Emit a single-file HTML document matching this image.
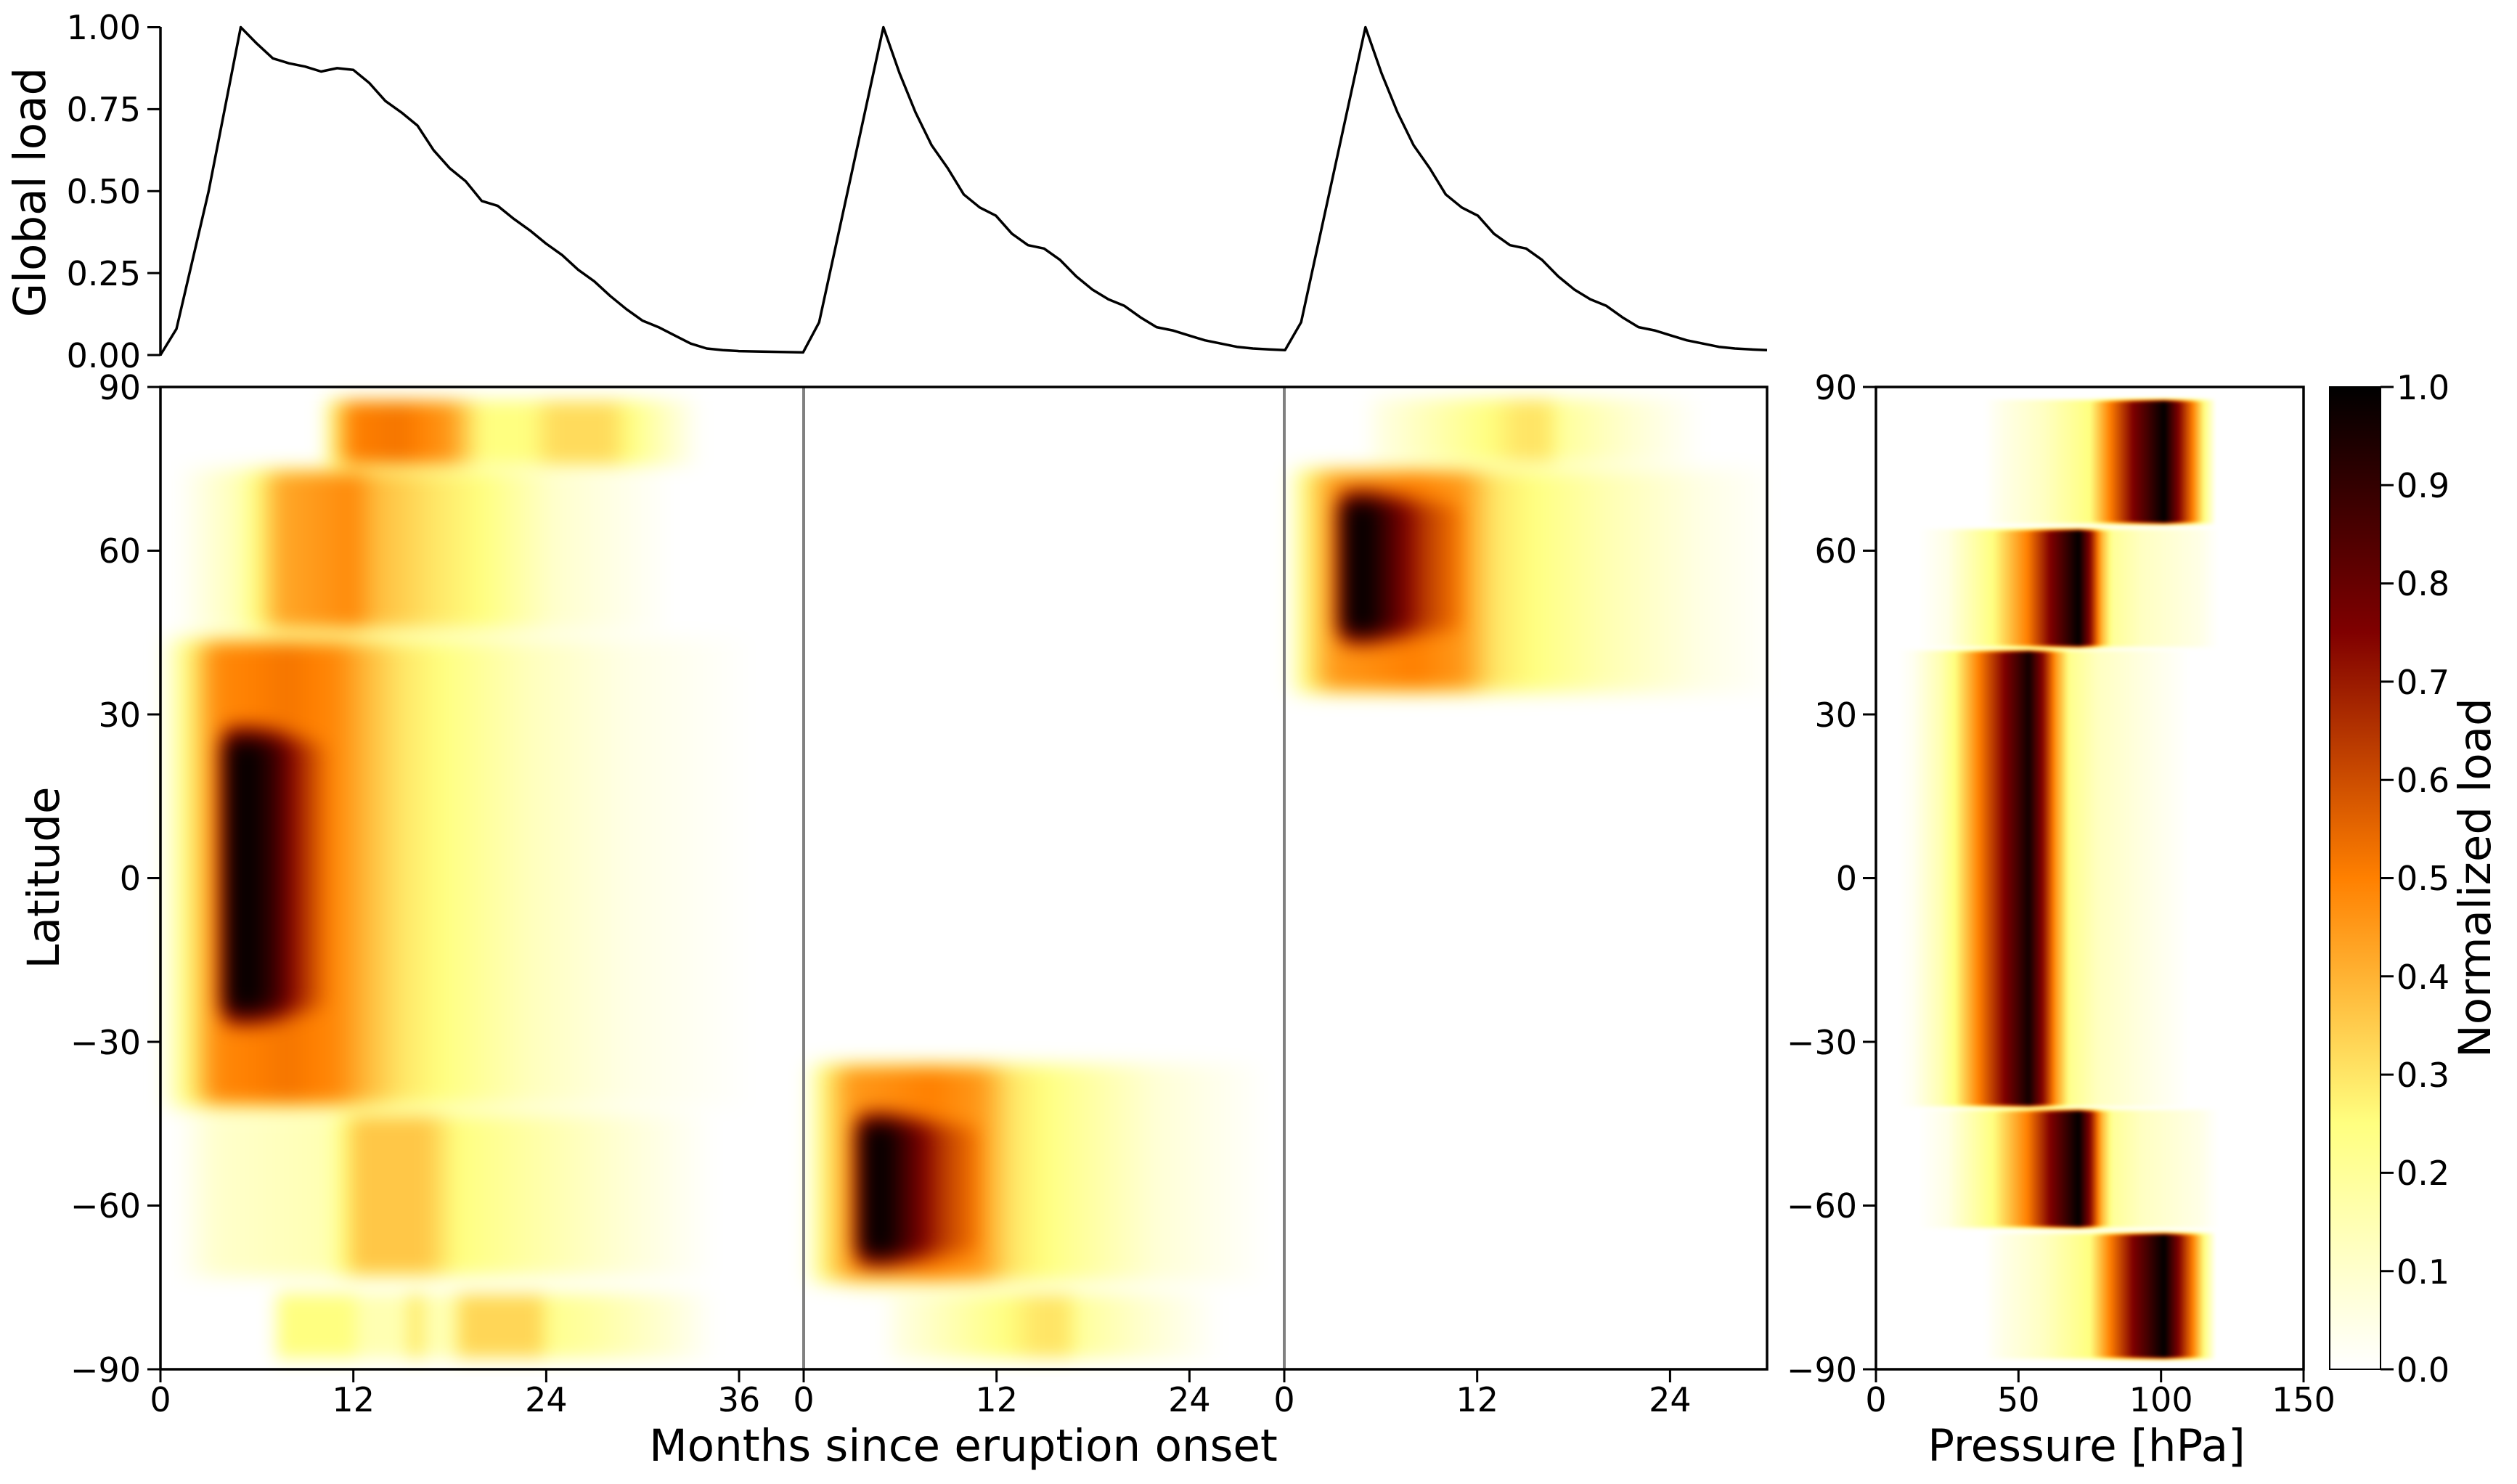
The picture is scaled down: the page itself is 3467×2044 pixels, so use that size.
<!DOCTYPE html>
<html><head><meta charset="utf-8"><style>
html,body{margin:0;padding:0;background:#fff;}
#wrap{position:relative;width:3467px;height:2044px;overflow:hidden;background:#fff;font-family:"DejaVu Sans","Liberation Sans",sans-serif;}
canvas{position:absolute;}
svg{position:absolute;left:0;top:0;}
</style></head><body><div id="wrap">
<canvas id="c1" width="2214" height="1353" style="left:220px;top:533px;filter:blur(12px)"></canvas>
<canvas id="c2" width="589" height="1353" style="left:2584px;top:533px;filter:blur(2px)"></canvas>
<div style="position:absolute;left:3209px;top:533px;width:70px;height:1353px;background:linear-gradient(to top,#fff 0%,#ffff80 25%,#ff8000 50%,#800000 75%,#000 100%)"></div>
<svg width="3467" height="2044" viewBox="0 0 3467 2044" font-family="DejaVu Sans, Liberation Sans, sans-serif" font-size="46" fill="#000">
<polyline id="ln" fill="none" stroke="#000" stroke-width="3.5" stroke-linejoin="round" points=""/>
<line x1="1107" y1="533" x2="1107" y2="1886" stroke="#808080" stroke-width="4"/>
<line x1="1769" y1="533" x2="1769" y2="1886" stroke="#808080" stroke-width="4"/>
<line x1="221" y1="37" x2="221" y2="490" stroke="#000" stroke-width="3.5"/>
<rect x="221" y="533" width="2213" height="1353" fill="none" stroke="#000" stroke-width="3.5"/>
<rect x="2584" y="533" width="589" height="1353" fill="none" stroke="#000" stroke-width="3.5"/>
<rect x="3209" y="533" width="70" height="1353" fill="none" stroke="#000" stroke-width="2"/>
<g stroke="#000" stroke-width="3">
<line x1="203" y1="37.5" x2="221" y2="37.5"/><line x1="203" y1="150.4" x2="221" y2="150.4"/><line x1="203" y1="263.3" x2="221" y2="263.3"/><line x1="203" y1="376.1" x2="221" y2="376.1"/><line x1="203" y1="489" x2="221" y2="489"/>
<line x1="203" y1="533" x2="221" y2="533"/><line x1="203" y1="758.5" x2="221" y2="758.5"/><line x1="203" y1="984" x2="221" y2="984"/><line x1="203" y1="1209.5" x2="221" y2="1209.5"/><line x1="203" y1="1435" x2="221" y2="1435"/><line x1="203" y1="1660.5" x2="221" y2="1660.5"/><line x1="203" y1="1886" x2="221" y2="1886"/>
<line x1="2566" y1="533" x2="2584" y2="533"/><line x1="2566" y1="758.5" x2="2584" y2="758.5"/><line x1="2566" y1="984" x2="2584" y2="984"/><line x1="2566" y1="1209.5" x2="2584" y2="1209.5"/><line x1="2566" y1="1435" x2="2584" y2="1435"/><line x1="2566" y1="1660.5" x2="2584" y2="1660.5"/><line x1="2566" y1="1886" x2="2584" y2="1886"/>
<line x1="221" y1="1886" x2="221" y2="1904"/><line x1="486.7" y1="1886" x2="486.7" y2="1904"/><line x1="752.4" y1="1886" x2="752.4" y2="1904"/><line x1="1018" y1="1886" x2="1018" y2="1904"/>
<line x1="1107" y1="1886" x2="1107" y2="1904"/><line x1="1372.7" y1="1886" x2="1372.7" y2="1904"/><line x1="1638.4" y1="1886" x2="1638.4" y2="1904"/>
<line x1="1769" y1="1886" x2="1769" y2="1904"/><line x1="2034.7" y1="1886" x2="2034.7" y2="1904"/><line x1="2300.4" y1="1886" x2="2300.4" y2="1904"/>
<line x1="2584" y1="1886" x2="2584" y2="1904"/><line x1="2780.3" y1="1886" x2="2780.3" y2="1904"/><line x1="2976.7" y1="1886" x2="2976.7" y2="1904"/><line x1="3173" y1="1886" x2="3173" y2="1904"/>
<line x1="3279" y1="533" x2="3297" y2="533"/><line x1="3279" y1="668.3" x2="3297" y2="668.3"/><line x1="3279" y1="803.6" x2="3297" y2="803.6"/><line x1="3279" y1="938.9" x2="3297" y2="938.9"/><line x1="3279" y1="1074.2" x2="3297" y2="1074.2"/><line x1="3279" y1="1209.5" x2="3297" y2="1209.5"/><line x1="3279" y1="1344.8" x2="3297" y2="1344.8"/><line x1="3279" y1="1480.1" x2="3297" y2="1480.1"/><line x1="3279" y1="1615.4" x2="3297" y2="1615.4"/><line x1="3279" y1="1750.7" x2="3297" y2="1750.7"/><line x1="3279" y1="1886" x2="3297" y2="1886"/>
</g>
<g text-anchor="end">
<text x="194" y="54">1.00</text><text x="194" y="167">0.75</text><text x="194" y="280">0.50</text><text x="194" y="393">0.25</text><text x="194" y="506">0.00</text>
<text x="194" y="550">90</text><text x="194" y="775">60</text><text x="194" y="1001">30</text><text x="194" y="1226">0</text><text x="194" y="1452">−30</text><text x="194" y="1677">−60</text><text x="194" y="1903">−90</text>
<text x="2558" y="550">90</text><text x="2558" y="775">60</text><text x="2558" y="1001">30</text><text x="2558" y="1226">0</text><text x="2558" y="1452">−30</text><text x="2558" y="1677">−60</text><text x="2558" y="1903">−90</text>
</g>
<g text-anchor="middle">
<text x="221" y="1944">0</text><text x="486.7" y="1944">12</text><text x="752.4" y="1944">24</text><text x="1018" y="1944">36</text>
<text x="1107" y="1944">0</text><text x="1372.7" y="1944">12</text><text x="1638.4" y="1944">24</text>
<text x="1769" y="1944">0</text><text x="2034.7" y="1944">12</text><text x="2300.4" y="1944">24</text>
<text x="2584" y="1944">0</text><text x="2780.3" y="1944">50</text><text x="2976.7" y="1944">100</text><text x="3173" y="1944">150</text>
</g>
<g text-anchor="start">
<text x="3301" y="550">1.0</text><text x="3301" y="685">0.9</text><text x="3301" y="820">0.8</text><text x="3301" y="956">0.7</text><text x="3301" y="1091">0.6</text><text x="3301" y="1226">0.5</text><text x="3301" y="1362">0.4</text><text x="3301" y="1497">0.3</text><text x="3301" y="1632">0.2</text><text x="3301" y="1768">0.1</text><text x="3301" y="1903">0.0</text>
</g>
<g font-size="61" text-anchor="middle">
<text x="1327" y="2012">Months since eruption onset</text>
<text x="2874" y="2012">Pressure [hPa]</text>
<text transform="translate(81,1209) rotate(-90)">Latitude</text>
<text transform="translate(62,265) rotate(-90)">Global load</text>
<text transform="translate(3430,1209) rotate(-90)">Normalized load</text>
</g>
</svg>
</div>
<script>
function interp(p,x){if(x<=p[0][0])return p[0][1];for(var i=1;i<p.length;i++){if(x<=p[i][0]){var a=p[i-1],b=p[i];return a[1]+(b[1]-a[1])*(x-a[0])/(b[0]-a[0]);}}return p[p.length-1][1];}
function ss(t){t=Math.max(0,Math.min(1,t));return t*t*(3-2*t);}
function lw(lat,lo,hi,e){return ss((lat-lo)/e+0.5)*ss((hi-lat)/e+0.5);}
var core=[[2,0],[3.8,0.95],[5,1],[6.5,0.85],[8.5,0.65],[11,0.5],[12,0]];
var S1=[
[-42,44,4,[[0,0],[0.6,0.1],[2,0.3],[3.5,0.48],[8,0.52],[11,0.48],[13,0.38],[15,0.3],[17,0.26],[23,0.13],[29,0.05],[37,0]]],
[-28,29,12,[[2.5,0],[4.3,0.95],[5.5,1],[7,0.9],[8.5,0.7],[10.5,0.5],[12,0]]],
[45.3,75,3,[[1,0],[3.7,0.1],[5,0.15],[7.5,0.42],[12,0.48],[13.5,0.38],[17,0.3],[20,0.25],[24.5,0.1],[32,0]]],
[75.6,87.7,2,[[10,0],[10.8,0.3],[12,0.5],[15,0.52],[18,0.45],[20,0.25],[23,0.25],[24.5,0.32],[28,0.32],[30,0.2],[33.7,0]]],
[-73,-43,3,[[1,0],[3.5,0.1],[10.5,0.15],[12.3,0.36],[16.5,0.36],[18.5,0.25],[21.5,0.2],[29,0.08],[34.6,0]]],
[-88,-76,2,[[7,0],[7.5,0.25],[12,0.25],[12.4,0.15],[15.3,0.15],[15.6,0.3],[16.2,0.3],[16.5,0.15],[18.3,0.15],[18.7,0.33],[23.6,0.33],[24.2,0.22],[27,0.18],[31.7,0.08],[34.6,0]]]];
var S2=[
[-74,-34,3,[[0,0],[1.5,0.3],[3,0.45],[8,0.5],[11,0.45],[13,0.3],[17,0.2],[22,0.08],[29,0]]],
[-72,-42,10,core],
[-88,-76,2,[[5,0],[5.7,0.05],[11,0.2],[14.5,0.3],[16.5,0.3],[17,0.2],[21,0.1],[26,0]]]];
var S3=[
[34,75,3,[[0,0],[1.5,0.3],[3,0.45],[8,0.5],[11,0.45],[13,0.3],[20,0.15],[26,0.05],[30,0.01]]],
[42,72,10,core],
[76,88,2,[[5,0],[5.7,0.05],[11,0.2],[14.5,0.3],[16.4,0.3],[17,0.2],[21,0.1],[26,0]]]];
function col(v){v=Math.max(0,Math.min(1,v));var x=1-v;return [255*Math.min(1,2*x),255*Math.max(0,Math.min(1,2*x-0.5)),255*Math.max(0,Math.min(1,2*x-1))];}
function draw(id,W,H,f){var c=document.getElementById(id),ctx=c.getContext('2d'),im=ctx.createImageData(W,H),d=im.data;
for(var y=0;y<H;y++){var lat=90-y*180/H;for(var x=0;x<W;x++){var v=f(x,lat),k=(y*W+x)*4,cc=col(v);d[k]=cc[0];d[k+1]=cc[1];d[k+2]=cc[2];d[k+3]=255;}}ctx.putImageData(im,0,0);}
draw('c1',2214,1353,function(x,lat){var m=x/22.14,S,r;if(m<40){S=S1;r=m;}else if(m<70){S=S2;r=m-40;}else{S=S3;r=m-70;}
var v=0;for(var i=0;i<S.length;i++){var s=S[i],w=lw(lat,s[0],s[1],s[2]);if(w>0){var t=w*interp(s[3],r);if(t>v)v=t;}}return v;});
var P1=[[38,0],[45,0.05],[59,0.12],[75,0.25],[82,0.5],[90,0.75],[101,1],[106,0.75],[111,0.5],[115,0.25],[118.5,0.05],[119,0]];
var P2=[[15,0],[25,0.05],[41,0.25],[53,0.5],[61,0.75],[71,1],[75.5,0.7],[79,0.4],[83,0.2],[93,0.12],[113,0.05],[120,0]];
var P3=[[8,0],[13,0.03],[22.5,0.15],[27.5,0.25],[36,0.5],[45,0.75],[53.5,0.97],[59,0.7],[63,0.45],[68,0.22],[78,0.12],[93,0.06],[110,0]];
var PB=[[65,87.7,P1],[42.4,64,P2],[-41.8,41.8,P3],[-64,-42.4,P2],[-88,-65,P1]];
draw('c2',589,1353,function(x,lat){var p=x*150/589,v=0;for(var i=0;i<PB.length;i++){var b=PB[i],w=lw(lat,b[0],b[1],1.2);if(w>0){var t=w*interp(b[2],p);if(t>v)v=t;}}return v;});
var L1=[[0,0],[1,0.08],[3,0.5],[5,1],[6,0.95],[7,0.905],[8,0.89],[9,0.88],[10,0.865],[11,0.875],[12,0.87],[13,0.83],[14,0.775],[15,0.74],[16,0.7],[17,0.625],[18,0.57],[19,0.53],[20,0.47],[21,0.455],[22,0.415],[23,0.38],[24,0.34],[25,0.305],[26,0.26],[27,0.225],[28,0.18],[29,0.14],[30,0.105],[31,0.085],[32,0.06],[33,0.035],[34,0.02],[35,0.015],[36,0.012],[40,0.008]];
var L2=[[0,0.008],[1,0.1],[3,0.55],[5,1],[6,0.86],[7,0.74],[8,0.64],[9,0.57],[10,0.49],[11,0.45],[12,0.425],[13,0.37],[14,0.335],[15,0.325],[16,0.29],[17,0.24],[18,0.2],[19,0.17],[20,0.15],[21,0.115],[22,0.085],[23,0.075],[24,0.06],[25,0.045],[26,0.035],[27,0.025],[28,0.02],[29,0.017],[30,0.015]];
var pts=[];function add(L,o){for(var i=0;i<L.length;i++){pts.push((221+(L[i][0]+o)*22.13).toFixed(1)+','+(489-L[i][1]*451.5).toFixed(1));}}
add(L1,0);add(L2.slice(1),40);add(L2.slice(1),70);
document.getElementById('ln').setAttribute('points',pts.join(' '));
</script>
</body></html>
